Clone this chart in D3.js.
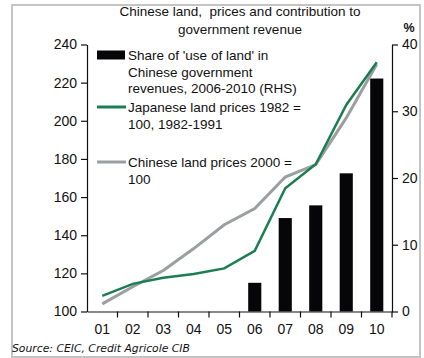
<!DOCTYPE html>
<html>
<head>
<meta charset="utf-8">
<script src="https://cdn.jsdelivr.net/npm/d3@7"></script>
<style>
  html, body { margin: 0; padding: 0; background: #fff; }
  svg { display: block; }
  text { font-family: "Liberation Sans", Arial, sans-serif; fill: #111; }
</style>
</head>
<body>
<svg id="chart" width="424" height="358"></svg>
<script>
// Years shown on the x axis (2001-2010)
const categories = ["01", "02", "03", "04", "05", "06", "07", "08", "09", "10"];
// Chinese land prices, 2000 = 100
const chinaPrices = [104, 113, 121.5, 133, 145.5, 154, 170.5, 177, 201.5, 229.7];
// Japanese land prices, 1982 = 100, 1982-1991
const japanPrices = [108.2, 114.5, 117.7, 119.7, 122.6, 131.8, 164.6, 177.2, 208.3, 230.7];
// Share of 'use of land' in Chinese government revenues, % (RHS), 2006-2010
const landShare = [null, null, null, null, null, 4.3, 14.0, 15.9, 20.7, 34.9];
const leftTicks = [100, 120, 140, 160, 180, 200, 220, 240];
const rightTicks = [0, 10, 20, 30, 40];

const svg = d3.select("#chart");

const plotLeft = 87, plotRight = 392, plotTop = 44.5, plotBottom = 311.5;

const x = d3.scaleBand().domain(categories).range([plotLeft, plotRight]);
const xBar = d3.scaleBand().domain(categories).range([plotLeft, plotRight])
  .paddingInner(0.57).paddingOuter(0.285);
const yL = d3.scaleLinear().domain([100, 240]).range([plotBottom, plotTop]);
const yR = d3.scaleLinear().domain([0, 40]).range([plotBottom, plotTop]);

// outer frame
svg.append("rect")
  .attr("x", 12).attr("y", 5).attr("width", 408).attr("height", 352)
  .attr("fill", "none").attr("stroke", "#c4c4c4").attr("stroke-width", 2);

// title
const title = svg.append("text").attr("text-anchor", "middle")
  .style("font-size", "13.5px").style("white-space", "pre");
title.append("tspan").attr("x", 240).attr("y", 16).text("Chinese land,  prices and contribution to");
title.append("tspan").attr("x", 240).attr("y", 33.5).text("government revenue");

svg.append("text").attr("x", 409).attr("y", 32).attr("text-anchor", "middle")
  .style("font-size", "12.5px").style("font-weight", "bold").text("%");

// bars (RHS)
svg.append("g").selectAll("rect")
  .data(categories.map((c, i) => ({ c, v: landShare[i] })).filter(d => d.v != null))
  .join("rect")
  .attr("x", d => xBar(d.c))
  .attr("width", xBar.bandwidth())
  .attr("y", d => yR(d.v))
  .attr("height", d => yR(0) - yR(d.v))
  .attr("fill", "#060608");

// lines (LHS)
const line = d3.line()
  .x((d, i) => x(categories[i]) + x.bandwidth() / 2)
  .y(d => yL(d));

svg.append("path").datum(chinaPrices)
  .attr("d", line).attr("fill", "none")
  .attr("stroke", "#9b9fa2").attr("stroke-width", 3);
svg.append("path").datum(japanPrices)
  .attr("d", line).attr("fill", "none")
  .attr("stroke", "#1a7e50").attr("stroke-width", 2.5);

// axes
function styleAxis(g, size) {
  g.selectAll("path, line").attr("stroke", "#111").attr("stroke-width", 1.2);
  g.selectAll("text").style("font-size", size).attr("fill", "#111")
    .style("font-family", "'Liberation Sans', Arial, sans-serif");
}

svg.append("g").attr("transform", `translate(${plotLeft},0)`)
  .call(d3.axisLeft(yL).tickValues(leftTicks).tickSize(6).tickSizeOuter(0).tickPadding(4))
  .call(g => styleAxis(g, "14px"));

svg.append("g").attr("transform", `translate(${plotRight},0)`)
  .call(d3.axisRight(yR).tickValues(rightTicks).tickSize(6).tickSizeOuter(0).tickPadding(4))
  .call(g => styleAxis(g, "14px"));

const xAxis = svg.append("g").attr("transform", `translate(0,${plotBottom})`)
  .call(d3.axisBottom(x).tickSize(0).tickPadding(13))
  .call(g => styleAxis(g, "14px"));
// ticks sit on the band boundaries
xAxis.selectAll(".bound").data(categories)
  .join("line")
  .attr("class", "bound")
  .attr("x1", (d, i) => plotLeft + x.step() * (i + 1))
  .attr("x2", (d, i) => plotLeft + x.step() * (i + 1))
  .attr("y1", 0).attr("y2", 6)
  .attr("stroke", "#111").attr("stroke-width", 1.2);

// legend
const legendItems = [
  { kind: "bar", color: "#060608", lines: ["Share of 'use of land' in", "Chinese government", "revenues, 2006-2010 (RHS)"], y: 55 },
  { kind: "line", color: "#1a7e50", lines: ["Japanese land prices 1982 =", "100, 1982-1991"], y: 107 },
  { kind: "line", color: "#9b9fa2", lines: ["Chinese land prices 2000 =", "100"], y: 162 }
];
const lg = svg.append("g");
legendItems.forEach(item => {
  if (item.kind === "bar") {
    lg.append("rect").attr("x", 97).attr("y", item.y - 4.5).attr("width", 28).attr("height", 9)
      .attr("fill", item.color);
  } else {
    lg.append("line").attr("x1", 97).attr("x2", 126).attr("y1", item.y).attr("y2", item.y)
      .attr("stroke", item.color).attr("stroke-width", 3);
  }
  const t = lg.append("text").style("font-size", "13.5px");
  item.lines.forEach((s, j) => {
    t.append("tspan").attr("x", 128).attr("y", item.y + 5 + j * 16.5).text(s);
  });
});

// source note
svg.append("text").attr("x", 12).attr("y", 352)
  .style("font-family", "'DejaVu Sans', Verdana, sans-serif")
  .style("font-style", "italic").style("font-size", "10.8px")
  .text("Source: CEIC, Credit Agricole CIB");
</script>
</body>
</html>
